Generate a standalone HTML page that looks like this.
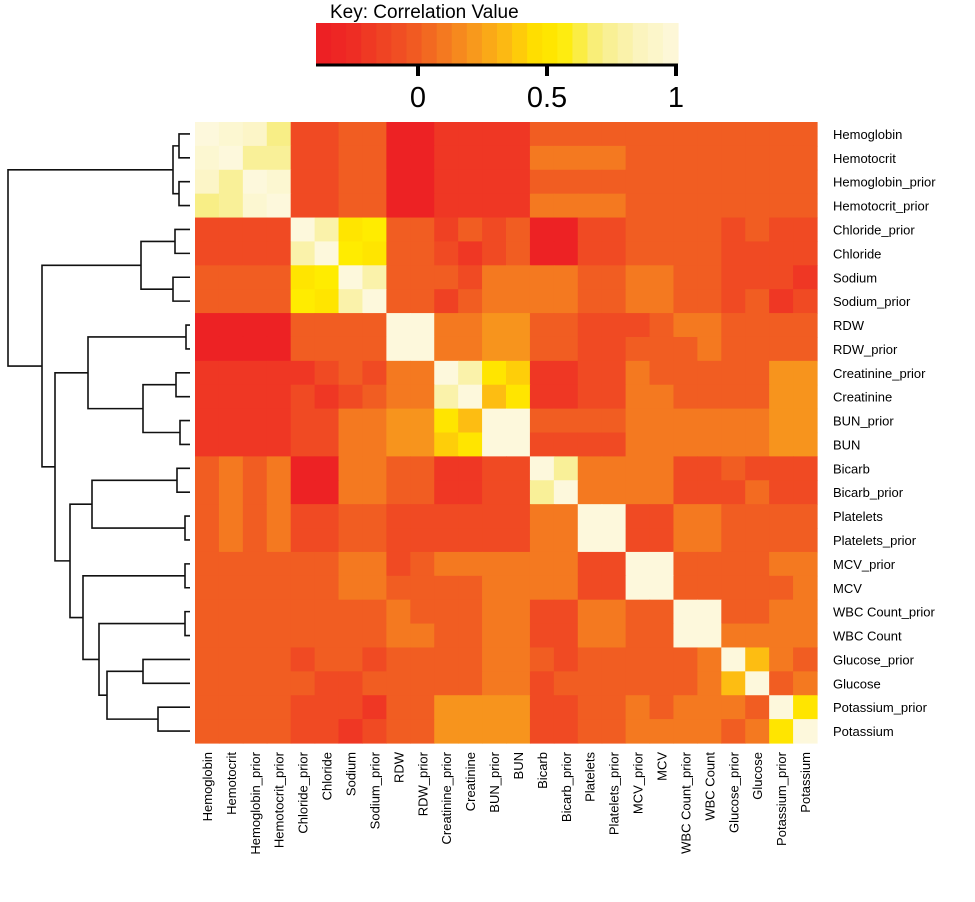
<!DOCTYPE html>
<html><head><meta charset="utf-8"><style>
body{margin:0;background:#fff;}
svg{display:block;font-family:"Liberation Sans",Arial,sans-serif;}
</style></head><body>
<svg id="chart" width="975" height="902" viewBox="0 0 975 902">
<g id="key"></g>
<g id="cells"></g>
<g id="dendro"></g>
<g id="rlabels"></g>
<g id="clabels"></g>
</svg>
<script>
const labels=["Hemoglobin","Hemotocrit","Hemoglobin_prior","Hemotocrit_prior","Chloride_prior","Chloride","Sodium","Sodium_prior","RDW","RDW_prior","Creatinine_prior","Creatinine","BUN_prior","BUN","Bicarb","Bicarb_prior","Platelets","Platelets_prior","MCV_prior","MCV","WBC Count_prior","WBC Count","Glucose_prior","Glucose","Potassium_prior","Potassium"];
const keyTicks=[0,0.5,1];
const keyTickLabels=["0","0.5","1"];
const corr=[
[1,.95,.9,.7,-.1,-.1,0,0,-.35,-.35,-.2,-.2,-.2,-.2,0,0,0,0,0,0,0,0,0,0,0,0],
[.95,1,.75,.75,-.1,-.1,0,0,-.35,-.35,-.2,-.2,-.2,-.2,.1,.1,.1,.1,0,0,0,0,0,0,0,0],
[.9,.75,1,.95,-.1,-.1,0,0,-.35,-.35,-.2,-.2,-.2,-.2,0,0,0,0,0,0,0,0,0,0,0,0],
[.7,.75,.95,1,-.1,-.1,0,0,-.35,-.35,-.2,-.2,-.2,-.2,.1,.1,.1,.1,0,0,0,0,0,0,0,0],
[-.1,-.1,-.1,-.1,1,.8,.5,.55,0,0,-.15,0,-.1,0,-.35,-.35,-.1,-.1,0,0,0,0,-.1,0,-.1,-.1],
[-.1,-.1,-.1,-.1,.8,1,.55,.5,0,0,-.1,-.2,-.1,0,-.35,-.35,-.1,-.1,0,0,0,0,-.1,-.1,-.1,-.1],
[0,0,0,0,.5,.55,1,.8,0,0,0,-.1,.1,.1,.1,.1,0,0,.1,.1,0,0,-.1,-.1,-.1,-.2],
[0,0,0,0,.55,.5,.8,1,0,0,-.15,0,.1,.1,.1,.1,0,0,.1,.1,0,0,-.1,0,-.2,-.1],
[-.35,-.35,-.35,-.35,0,0,0,0,1,1,.1,.1,.2,.2,0,0,-.1,-.1,-.1,0,.1,.1,0,0,0,0],
[-.35,-.35,-.35,-.35,0,0,0,0,1,1,.1,.1,.2,.2,0,0,-.1,-.1,0,0,0,.1,0,0,0,0],
[-.2,-.2,-.2,-.2,-.2,-.1,0,-.1,.1,.1,1,.8,.5,.4,-.2,-.2,-.1,-.1,.1,0,0,0,0,0,.2,.2],
[-.2,-.2,-.2,-.2,-.1,-.2,-.1,0,.1,.1,.8,1,.35,.5,-.2,-.2,-.1,-.1,.1,.1,0,0,0,0,.2,.2],
[-.2,-.2,-.2,-.2,-.1,-.1,.1,.1,.2,.2,.5,.35,1,1,0,0,0,0,.1,.1,.1,.1,.1,.1,.2,.2],
[-.2,-.2,-.2,-.2,-.1,-.1,.1,.1,.2,.2,.4,.5,1,1,-.1,-.1,-.1,-.1,.1,.1,.1,.1,.1,.1,.2,.2],
[0,.1,0,.1,-.35,-.35,.1,.1,0,0,-.2,-.2,-.1,-.1,1,.75,.1,.1,.1,.1,-.1,-.1,0,-.1,-.1,-.1],
[0,.1,0,.1,-.35,-.35,.1,.1,0,0,-.2,-.2,-.1,-.1,.75,1,.1,.1,.1,.1,-.1,-.1,-.1,.05,-.1,-.1],
[0,.1,0,.1,-.1,-.1,0,0,-.1,-.1,-.1,-.1,-.1,-.1,.1,.1,1,1,-.1,-.1,.1,.1,0,0,0,0],
[0,.1,0,.1,-.1,-.1,0,0,-.1,-.1,-.1,-.1,-.1,-.1,.1,.1,1,1,-.1,-.1,.1,.1,0,0,0,0],
[0,0,0,0,0,0,.1,.1,-.1,0,.1,.1,.1,.1,.1,.1,-.1,-.1,1,1,0,0,0,0,.1,.1],
[0,0,0,0,0,0,.1,.1,0,0,0,0,.1,.1,.1,.1,-.1,-.1,1,1,0,0,0,0,0,.1],
[0,0,0,0,0,0,0,0,.1,0,0,0,.1,.1,-.1,-.1,.1,.1,0,0,1,1,0,0,.1,.1],
[0,0,0,0,0,0,0,0,.1,.1,0,0,.1,.1,-.1,-.1,.1,.1,0,0,1,1,.1,.1,.1,.1],
[0,0,0,0,-.1,0,0,-.1,0,0,0,0,.1,.1,0,-.1,0,0,0,0,0,.1,1,.35,.1,0],
[0,0,0,0,0,-.1,-.1,0,0,0,0,0,.1,.1,-.1,0,0,0,0,0,0,.1,.35,1,0,.1],
[0,0,0,0,-.1,-.1,-.1,-.2,0,0,.2,.2,.2,.2,-.1,-.1,0,0,.1,0,.1,.1,.1,0,1,.5],
[0,0,0,0,-.1,-.1,-.2,-.1,0,0,.2,.2,.2,.2,-.1,-.1,0,0,.1,.1,.1,.1,0,.1,.5,1]];
// dendrogram merges: [left, right, height-x]
const merges=[[0,1,179],[2,3,179],[4,5,175],[6,7,173],[8,9,186],[10,11,176],[12,13,180],[14,15,177],[16,17,185],[18,19,185],[20,21,185],[22,23,143],[24,25,158],
["m0","m1",173],["m2","m3",141],["m5","m6",143],["m4","m15",88],["m7","m8",92],["m11","m12",107],["m10","m18",99],["m9","m19",83],["m17","m20",70],["m16","m21",55],["m14","m22",42],["m13","m23",8]];

const NS="http://www.w3.org/2000/svg";
const X0=195,Y0=122,CW=(817-195)/26,CH=(743-122)/26;
const xs=i=>X0+i*CW, ys=i=>Y0+i*CH;
const stops=[[-0.4,[237,28,36]],[-0.25,[238,45,36]],[-0.15,[239,65,35]],[-0.05,[240,82,35]],[0,[241,93,34]],[0.1,[244,121,32]],[0.2,[247,148,29]],[0.35,[253,189,18]],[0.45,[255,222,0]],[0.55,[255,236,0]],[0.7,[248,238,134]],[0.85,[251,244,188]],[1,[253,248,220]]];
function col(v){v=Math.max(-0.4,Math.min(1,v));for(let i=1;i<stops.length;i++){if(v<=stops[i][0]){const a=stops[i-1],b=stops[i],t=(v-a[0])/(b[0]-a[0]);return 'rgb('+a[1].map((c,k)=>Math.round(c+(b[1][k]-c)*t)).join(',')+')';}}return 'rgb(253,248,220)';}
function mk(tag,attrs,parent){const e=document.createElementNS(NS,tag);for(const k in attrs)e.setAttribute(k,attrs[k]);parent.appendChild(e);return e;}

const cells=document.getElementById('cells');
corr.forEach((row,r)=>row.forEach((v,c)=>{
 const e=mk('rect',{x:xs(c),y:ys(r),width:CW+0.6,height:CH+0.6,fill:col(v)},cells);
 
 
}));

const rl=document.getElementById('rlabels'),cl=document.getElementById('clabels');
labels.forEach((l,i)=>{
 const t=mk('text',{x:833,y:ys(i)+CH/2+5,'font-size':13},rl);t.textContent=l;
 
 
 const cx=xs(i)+CW/2+5;
 const u=mk('text',{x:0,y:0,'font-size':13,'text-anchor':'end',transform:'translate('+cx+',752) rotate(-90)'},cl);u.textContent=l;
 
 
});

// dendrogram
const dg=document.getElementById('dendro');const pos={};const LEAFX=190;
for(let i=0;i<26;i++)pos[i]={y:ys(i)+CH/2,x:LEAFX};
merges.forEach((m,k)=>{
 const a=pos[m[0]],b=pos[m[1]],h=m[2];
 const p=mk('path',{d:'M'+a.x+' '+a.y+'H'+h+'V'+b.y+'H'+b.x,fill:'none',stroke:'#111','stroke-width':1.6},dg);
 
 
 pos['m'+k]={x:h,y:(a.y+b.y)/2};
});

// key
const kg=document.getElementById('key');
const KL=316,KR=678,kx=v=>418+(v-0)*(547-418)/0.5;
const title=mk('text',{x:330,y:18,'font-size':19},kg);title.textContent='Key: Correlation Value';


const nb=24;
for(let i=0;i<nb;i++){
 const v0=-0.395+i*(1.4/nb);
 const r=mk('rect',{x:KL+i*(KR-KL)/nb,y:23,width:(KR-KL)/nb+0.6,height:41,fill:col(v0+0.7/nb)},kg);
 
 
}
const ax=mk('line',{x1:KL,x2:KR,y1:65,y2:65,stroke:'#000','stroke-width':3},kg);


keyTicks.forEach((v,i)=>{
 const x=Math.min(kx(v),677);
 const t=mk('line',{x1:x,x2:x,y1:64,y2:76,stroke:'#000','stroke-width':4},kg);
 
 
 const tx=mk('text',{x:x,y:107,'font-size':29,'text-anchor':'middle'},kg);tx.textContent=keyTickLabels[i];
 
 
});
</script>
</body></html>
